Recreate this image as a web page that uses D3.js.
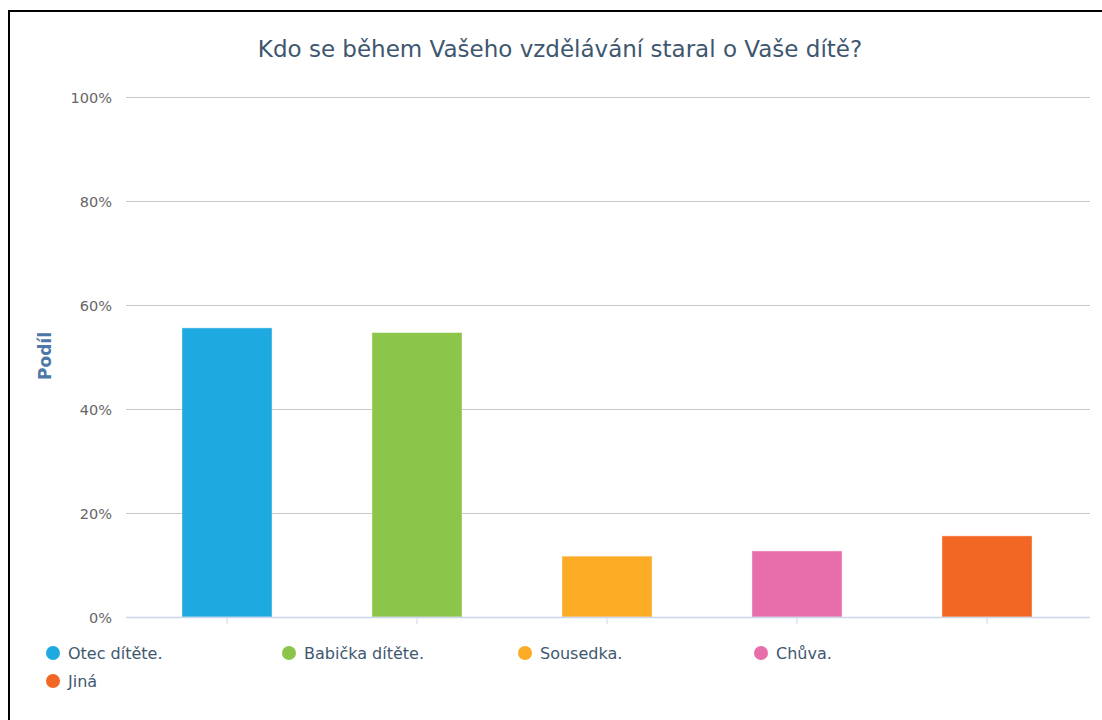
<!DOCTYPE html>
<html>
<head>
<meta charset="utf-8">
<script src="https://cdn.jsdelivr.net/npm/d3@7"></script>
<style>
  body { margin: 0; background: #fff; }
  svg { display: block; font-family: "DejaVu Sans", sans-serif; }
</style>
</head>
<body>
<div id="myDiv"></div>
<script>
// chart data
var categories = ["Otec dítěte.", "Babička dítěte.", "Sousedka.", "Chůva.", "Jiná"];
var values = [55.6, 54.7, 11.7, 12.7, 15.6];
var colors = ["#1fa9e1", "#8bc54a", "#fbab24", "#e76eaa", "#f26723"];
var yTicks = [0, 20, 40, 60, 80, 100];

var width = 1102, height = 720;

var svg = d3.select("#myDiv")
    .append("svg")
    .attr("width", width)
    .attr("height", height);

// outer frame (runs off the right and bottom edge)
svg.append("rect")
    .attr("x", 9)
    .attr("y", 11)
    .attr("width", 1200)
    .attr("height", 800)
    .attr("fill", "none")
    .attr("stroke", "#000")
    .attr("stroke-width", 2);

// title
svg.append("text")
    .attr("x", 560)
    .attr("y", 57)
    .attr("text-anchor", "middle")
    .attr("font-size", "23px")
    .attr("fill", "#3e576f")
    .text("Kdo se během Vašeho vzdělávání staral o Vaše dítě?");

var x = d3.scaleBand()
    .domain(categories)
    .range([132, 1082])
    .paddingInner(0.526)
    .paddingOuter(0.263);

var y = d3.scaleLinear()
    .domain([0, 100])
    .range([617, 97]);

// grid lines
svg.append("g")
    .selectAll("line")
    .data(yTicks.filter(function (d) { return d > 0; }))
    .enter().append("line")
    .attr("x1", 126)
    .attr("x2", 1090)
    .attr("y1", function (d) { return y(d) + 0.5; })
    .attr("y2", function (d) { return y(d) + 0.5; })
    .attr("stroke", "#c8c8c8")
    .attr("stroke-width", 1);

// y axis labels
var yAxis = d3.axisLeft(y)
    .tickValues(yTicks)
    .tickSize(0)
    .tickPadding(0)
    .tickFormat(function (d) { return d + "%"; });

var yg = svg.append("g")
    .attr("transform", "translate(112,0)")
    .call(yAxis);
yg.select(".domain").remove();
yg.selectAll("text")
    .attr("font-family", "DejaVu Sans, sans-serif")
    .attr("font-size", "14.5px")
    .attr("fill", "#666")
    .attr("dy", "0.35em");

// y axis title
svg.append("text")
    .attr("transform", "translate(51,356) rotate(-90)")
    .attr("text-anchor", "middle")
    .attr("font-size", "17px")
    .attr("font-weight", "bold")
    .attr("fill", "#4d77a6")
    .text("Podíl");

// bars
svg.append("g")
    .selectAll("rect")
    .data(values)
    .enter().append("rect")
    .attr("x", function (d, i) { return x(categories[i]); })
    .attr("y", function (d) { return y(d); })
    .attr("width", x.bandwidth())
    .attr("height", function (d) { return y(0) - y(d); })
    .attr("fill", function (d, i) { return colors[i]; })
    .attr("stroke", "rgba(255,255,255,0.4)")
    .attr("stroke-width", 1);

// x axis line and ticks
svg.append("line")
    .attr("x1", 126)
    .attr("x2", 1090)
    .attr("y1", 617.5)
    .attr("y2", 617.5)
    .attr("stroke", "#ccd6eb")
    .attr("stroke-width", 1.5);

svg.append("g")
    .selectAll("line")
    .data(categories)
    .enter().append("line")
    .attr("x1", function (d) { return x(d) + x.bandwidth() / 2; })
    .attr("x2", function (d) { return x(d) + x.bandwidth() / 2; })
    .attr("y1", 618)
    .attr("y2", 624)
    .attr("stroke", "#ccd6eb")
    .attr("stroke-width", 1);

// legend
var legendItems = svg.append("g")
    .selectAll("g")
    .data(categories)
    .enter().append("g")
    .attr("transform", function (d, i) {
        return "translate(" + (53 + (i % 4) * 236) + "," + (653 + Math.floor(i / 4) * 28) + ")";
    });

legendItems.append("circle")
    .attr("r", 7)
    .attr("fill", function (d, i) { return colors[i]; });

legendItems.append("text")
    .attr("x", 15)
    .attr("y", 0)
    .attr("dy", "0.36em")
    .attr("font-size", "16px")
    .attr("fill", "#3e576f")
    .text(function (d) { return d; });
</script>
</body>
</html>
